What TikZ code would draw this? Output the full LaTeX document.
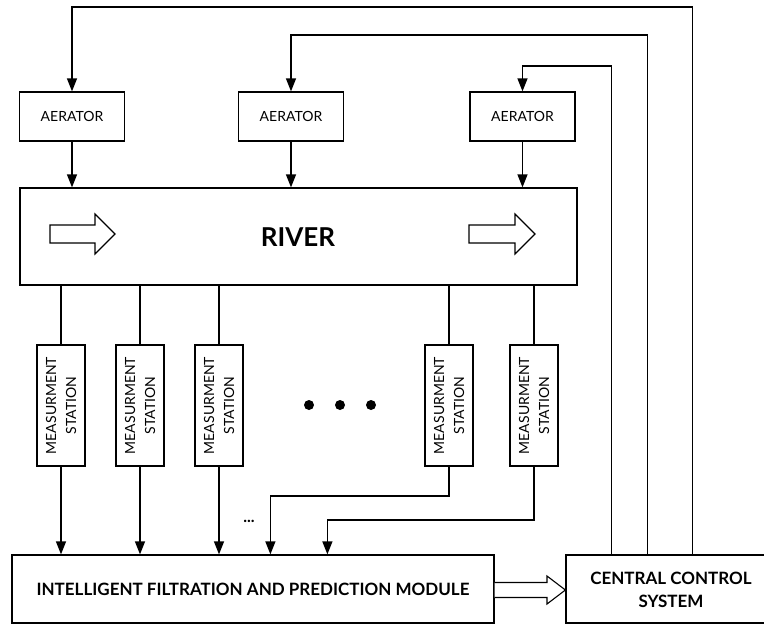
\documentclass[tikz,border=0pt]{standalone}
\usepackage{fontspec}
\setmainfont{Lato}
\usetikzlibrary{arrows.meta,calc}

\begin{document}
\begin{tikzpicture}[x=1pt, y=-1pt, line width=1.2pt,
  box/.style={draw, rectangle, inner sep=0pt},
  aerbox/.style={box, minimum width=105pt, minimum height=49pt,
    font=\fontsize{14}{17}\selectfont},
  stbox/.style={box, minimum width=48pt, minimum height=121pt},
  sttext/.style={rotate=90, align=center, inner sep=0pt,
    font=\fontsize{14}{20}\selectfont},
  boldtext/.style={font=\bfseries\fontsize{17}{21}\selectfont},
  flow/.style={-{Triangle[length=13pt,width=10pt]}},
  hollow/.style={draw, line width=1.1pt, fill=white, line join=miter},
]
\useasboundingbox (0,0) rectangle (764,625);

% aerators
\node[aerbox] (aer1) at (72,116.5) {AERATOR};
\node[aerbox] (aer2) at (291,116.5) {AERATOR};
\node[aerbox] (aer3) at (522.5,116.5) {AERATOR};

% river
\node[box, minimum width=557pt, minimum height=97pt] (river) at (298.5,236.5) {};
\node[font=\bfseries\fontsize{26}{30}\selectfont] (rivlbl) at (298,237) {RIVER};
\draw[hollow] (50,225) -- (95,225) -- (95,214) -- (115,234) -- (95,254)
  -- (95,243) -- (50,243) -- cycle;
\draw[hollow] (469,225) -- (515,225) -- (515,214) -- (535,234) -- (515,254)
  -- (515,243) -- (469,243) -- cycle;

% measurement stations
\foreach \n/\x in {1/61,2/140,3/219,4/449,5/534}{
  \node[stbox] (st\n) at (\x,405.5) {};
  \node[sttext] (stl\n) at (st\n) {MEASURMENT\\STATION};
}
\foreach \d/\x in {1/309,2/340,3/371}
  \fill (\x,405) circle (5pt);

% processing and control
\node[box, minimum width=482pt, minimum height=68pt, boldtext] (mod) at (253,589)
  {INTELLIGENT FILTRATION AND PREDICTION MODULE};
\node[box, minimum width=210pt, minimum height=68pt] (ccs) at (671,589) {};
\node[boldtext, align=center] (ccslbl) at (671,590)
  {CENTRAL CONTROL\\[2pt]SYSTEM};
\node[font=\bfseries\fontsize{16}{18}\selectfont, inner sep=0pt, anchor=base]
  (more) at (249,522) {...};

% aerator outputs into the river
\foreach \n in {1,2,3}
  \draw[flow] (aer\n.south) -- (aer\n.south |- river.north);

% river to stations, stations to module
\foreach \n in {1,...,5}
  \draw (st\n.north |- river.south) -- (st\n.north);
\foreach \n in {1,2,3}
  \draw[flow] (st\n.south) -- (st\n.south |- mod.north);
\coordinate (in4) at ($(mod.north west)+(259,0)$);
\coordinate (in5) at ($(mod.north west)+(316,0)$);
\draw[flow] (st4.south) -- (st4.south |- 0,496) -| (in4);
\draw[flow] (st5.south) -- (st5.south |- 0,520) -| (in5);

% module to central control
\draw[hollow] (mod.east |- 0,582.5) -- (547,582.5) -- (547,576) -- (ccs.west |- 0,590)
  -- (547,604) -- (547,597.5) -- (mod.east |- 0,597.5);

% control lines back to the aerators
\coordinate (c1) at ($(ccs.north west)+(127,0)$);
\coordinate (c2) at ($(ccs.north west)+(82,0)$);
\coordinate (c3) at ($(ccs.north west)+(46,0)$);
\draw[flow] (c1) -- (c1 |- 0,7) -| (aer1.north);
\draw[flow] (c2) -- (c2 |- 0,35) -| (aer2.north);
\draw[flow] (c3) -- (c3 |- 0,66) -| (aer3.north);
\end{tikzpicture}
\end{document}
